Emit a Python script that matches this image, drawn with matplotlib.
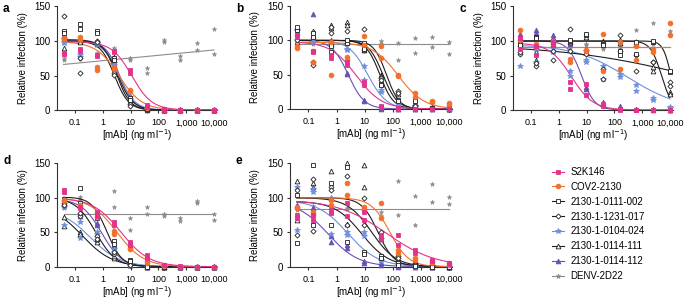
import numpy as np
import matplotlib
matplotlib.use("Agg")
import matplotlib.pyplot as plt
from matplotlib.lines import Line2D

plt.rcParams['font.family'] = ['Liberation Sans', 'DejaVu Sans']
plt.rcParams['font.size'] = 7

# ---------------- data ----------------
conc = [0.038, 0.15, 0.61, 2.44, 9.77, 39.1, 156, 625, 2500, 10000]
x_ticks = [0.1, 1, 10, 100, 1000, 10000]
x_ticklabels = ["0.1", "1", "10", "100", "1,000", "10,000"]
y_ticks = [0, 50, 100, 150]

names = ["S2K146", "COV2-2130", "2130-1-0111-002", "2130-1-1231-017",
         "2130-1-0104-024", "2130-1-0114-111", "2130-1-0114-112", "DENV-2D22"]

# panel a (two replicates per series)
A_S2K146 = [[83, 88, 80, 86, 58, 7, 0, 0, 0, 0], [81, 85, 78, 84, 54, 5, 1, 0, 0, 0]]
A_COV2130 = [[105, 106, 63, 63, 29, 4, 1, 0, 0, 0], [103, 101, 58, 60, 27, 3, 0, 0, 0, 0]]
A_0111_002 = [[114, 125, 114, 75, 18, 2, 0, 0, 0, 0], [111, 118, 111, 72, 15, 1, 0, 0, 0, 0]]
A_1231_017 = [[136, 54, 100, 54, 8, 1, 0, 0, 0, 0], [105, 76, 98, 51, 6, 0, 0, 0, 0, 0]]
A_0104_024 = [[99, 80, 97, 68, 19, 2, 0, 0, 0, 0], [97, 77, 95, 65, 16, 1, 0, 0, 0, 0]]
A_0114_111 = [[90, 100, 98, 77, 20, 2, 0, 0, 0, 0], [107, 98, 96, 73, 14, 1, 0, 0, 0, 0]]
A_0114_112 = [[108, 102, 99, 70, 15, 1, 0, 0, 0, 0], [104, 100, 97, 66, 12, 0, 0, 0, 0, 0]]
A_DENV = [[73, 74, 80, 90, 75, 61, 102, 78, 97, 117], [75, 77, 82, 85, 72, 54, 99, 73, 87, 81]]

# panel b
B_S2K146 = [[108, 83, 79, 69, 40, 4, 1, 0, 0, 0], [105, 85, 74, 64, 35, 3, 0, 0, 0, 0]]
B_COV2130 = [[89, 69, 49, 76, 106, 92, 50, 23, 11, 9], [92, 84, 98, 71, 93, 74, 48, 18, 10, 6]]
B_0111_002 = [[115, 110, 83, 96, 96, 37, 13, 13, 2, 1], [119, 105, 92, 100, 88, 35, 11, 11, 1, 0]]
B_1231_017 = [[117, 64, 120, 113, 117, 45, 26, 6, 2, 0], [101, 69, 110, 96, 86, 42, 24, 5, 1, 0]]
B_0104_024 = [[113, 98, 91, 86, 62, 25, 8, 3, 1, 0], [101, 100, 94, 88, 42, 27, 9, 4, 0, 0]]
B_0114_111 = [[97, 113, 122, 127, 91, 50, 26, 6, 3, 1], [110, 107, 118, 122, 86, 48, 22, 5, 2, 0]]
B_0114_112 = [[118, 139, 100, 51, 13, 1, 0, 0, 0, 0], [110, 108, 96, 53, 11, 0, 0, 0, 0, 0]]
B_DENV = [[96, 98, 99, 94, 95, 99, 72, 103, 105, 97], [93, 95, 92, 97, 91, 95, 96, 82, 90, 80]]

# panel c
C_S2K146 = [[105, 93, 98, 40, 38, 6, 1, 0, 0, 0], [88, 79, 95, 31, 22, 9, 0, 0, 0, 0]]
C_COV2130 = [[116, 93, 100, 74, 87, 110, 98, 93, 84, 126], [102, 96, 97, 69, 85, 57, 60, 72, 88, 108]]
C_0111_002 = [[96, 106, 100, 100, 108, 96, 86, 98, 98, 55], [94, 104, 98, 102, 110, 94, 79, 81, 100, 57]]
C_1231_017 = [[81, 64, 86, 117, 81, 60, 109, 57, 69, 41], [84, 68, 73, 86, 87, 45, 85, 80, 70, 35]]
C_0104_024 = [[64, 69, 86, 56, 72, 64, 52, 36, 18, 5], [92, 88, 84, 50, 70, 45, 48, 28, 15, 3]]
C_0114_111 = [[97, 72, 98, 100, 110, 100, 101, 99, 56, 26], [100, 84, 96, 98, 106, 98, 97, 95, 63, 23]]
C_0114_112 = [[110, 116, 109, 98, 34, 11, 6, 2, 1, 0], [104, 112, 104, 96, 31, 8, 3, 1, 0, 0]]
C_DENV = [[104, 95, 92, 93, 96, 92, 90, 116, 126, 114], [95, 90, 88, 90, 94, 89, 93, 100, 96, 108]]

# panel d
D_S2K146 = [[111, 87, 80, 65, 36, 17, 3, 1, 0, 0], [108, 85, 74, 60, 31, 13, 2, 0, 0, 0]]
D_COV2130 = [[97, 90, 78, 48, 27, 8, 2, 0, 0, 0], [95, 87, 72, 52, 25, 6, 1, 0, 0, 0]]
D_0111_002 = [[98, 114, 70, 37, 10, 1, 0, 0, 0, 0], [95, 92, 75, 33, 8, 0, 0, 0, 0, 0]]
D_1231_017 = [[92, 74, 44, 19, 4, 0, 0, 0, 0, 0], [90, 78, 40, 22, 3, 1, 0, 0, 0, 0]]
D_0104_024 = [[87, 65, 51, 26, 4, 0, 0, 0, 0, 0], [60, 41, 48, 22, 3, 0, 0, 0, 0, 0]]
D_0114_111 = [[59, 50, 36, 12, 3, 0, 0, 0, 0, 0], [72, 48, 40, 15, 5, 1, 0, 0, 0, 0]]
D_0114_112 = [[90, 74, 64, 31, 5, 0, 0, 0, 0, 0], [93, 78, 60, 28, 3, 0, 0, 0, 0, 0]]
D_DENV = [[88, 101, 80, 110, 53, 86, 77, 71, 95, 77], [85, 97, 76, 87, 70, 76, 74, 66, 92, 68]]

# panel e
E_S2K146 = [[75, 75, 82, 92, 80, 46, 46, 24, 10, 5], [70, 68, 78, 73, 68, 40, 32, 20, 8, 4]]
E_COV2130 = [[87, 80, 97, 122, 87, 93, 24, 12, 8, 5], [85, 75, 90, 104, 82, 70, 20, 9, 6, 3]]
E_0111_002 = [[104, 147, 122, 144, 22, 15, 5, 2, 1, 0], [34, 60, 60, 36, 18, 12, 3, 1, 0, 0]]
E_1231_017 = [[111, 127, 115, 131, 100, 50, 15, 6, 2, 0], [46, 52, 111, 60, 60, 41, 12, 4, 1, 0]]
E_0104_024 = [[115, 109, 99, 46, 51, 10, 5, 1, 0, 0], [53, 112, 48, 50, 45, 8, 3, 0, 0, 0]]
E_0114_111 = [[124, 121, 139, 150, 148, 45, 10, 4, 1, 0], [68, 116, 100, 62, 116, 40, 8, 3, 0, 0]]
E_0114_112 = [[90, 85, 36, 27, 5, 5, 1, 0, 0, 0], [88, 80, 45, 32, 8, 3, 0, 0, 0, 0]]
E_DENV = [[86, 88, 84, 83, 85, 73, 124, 102, 120, 101], [82, 84, 86, 85, 83, 80, 75, 60, 94, 91]]

# fitted curve parameters: (top, bottom, IC50, hill)
A_FITS = [(99, 0, 11, 1.2), (99, 0, 3.8, 1.05), (102, 0, 3.4, 1.6), (100, 0, 2.6, 1.7),
          (100, 0, 3.8, 1.5), (100, 0, 3.2, 1.8), (100, 0, 4.0, 1.7)]
B_FITS = [(98, 0, 5, 0.95), (97, 0, 160, 0.95), (100, 0, 35, 1.8), (100, 0, 45, 1.7),
          (100, 0, 13, 1.3), (100, 0, 60, 1.9), (100, 0, 2.6, 1.5)]
C_FITS = [(97, 0, 2.8, 1.1), (91, 91, 1, 1), (100, 0, 11000, 3), (95, 0, 1e5, 0.18),
          (95, 0, 300, 0.45), (100, 0, 5000, 2.2), (100, 0, 6.5, 1.8)]
D_FITS = [(100, 0, 4.5, 0.85), (100, 0, 3.2, 0.9), (101, 0, 1.4, 1.6), (100, 0, 0.55, 1.2),
          (85, 0, 0.35, 0.8), (90, 0, 0.18, 0.8), (98, 0, 0.9, 1.2)]
E_FITS = [(97, 0, 60, 0.5), (100, 0, 80, 1.3), (95, 0, 8, 0.9), (100, 0, 18, 1.0),
          (97, 0, 2.5, 0.8), (100, 0, 30, 1.5), (95, 0, 0.5, 0.8)]
# DENV-2D22 fit line: value at lowest and highest concentration
A_DENV_FIT = [66, 87]
B_DENV_FIT = [94, 94]
C_DENV_FIT = [92, 92]
D_DENV_FIT = [77, 77]
E_DENV_FIT = [84, 84]

# ---------------- styles ----------------
PINK = '#e2338c'
ORANGE = '#f26f2c'
BLUE = '#6e8fdc'
PURPLE = '#6a4fb6'
GRAY = '#8c8c8c'
BLACK = '#1e1e1e'

styles = [
    dict(color=PINK, marker='s', mfc=PINK, ms=3.2),
    dict(color=ORANGE, marker='o', mfc=ORANGE, ms=3.4),
    dict(color=BLACK, marker='s', mfc='white', ms=3.2),
    dict(color=BLACK, marker='D', mfc='white', ms=2.6),
    dict(color=BLUE, marker='*', mfc=BLUE, ms=4.0),
    dict(color=BLACK, marker='^', mfc='white', ms=3.4),
    dict(color=PURPLE, marker='^', mfc=PURPLE, ms=3.4),
    dict(color=GRAY, marker='*', mfc=GRAY, ms=3.4),
]


def logistic(x, top, bottom, ic50, hill):
    return bottom + (top - bottom) / (1.0 + (x / ic50) ** hill)


W, H = 685, 299
fig = plt.figure(figsize=(W / 100, H / 100), dpi=100)


def add_axes_px(left, right, y150, y0):
    return fig.add_axes([left / W, 1 - y0 / H, (right - left) / W, (y0 - y150) / H])


panels = [
    ("a", add_axes_px(57, 217, 6.5, 110),
     [A_S2K146, A_COV2130, A_0111_002, A_1231_017, A_0104_024, A_0114_111, A_0114_112, A_DENV],
     A_FITS, A_DENV_FIT, (3, 9)),
    ("b", add_axes_px(290, 452, 6.0, 109),
     [B_S2K146, B_COV2130, B_0111_002, B_1231_017, B_0104_024, B_0114_111, B_0114_112, B_DENV],
     B_FITS, B_DENV_FIT, (236, 9)),
    ("c", add_axes_px(513, 673, 6.5, 110),
     [C_S2K146, C_COV2130, C_0111_002, C_1231_017, C_0104_024, C_0114_111, C_0114_112, C_DENV],
     C_FITS, C_DENV_FIT, (459, 9)),
    ("d", add_axes_px(57, 217, 163.3, 266.7),
     [D_S2K146, D_COV2130, D_0111_002, D_1231_017, D_0104_024, D_0114_111, D_0114_112, D_DENV],
     D_FITS, D_DENV_FIT, (3, 161)),
    ("e", add_axes_px(290, 452, 163.3, 266.7),
     [E_S2K146, E_COV2130, E_0111_002, E_1231_017, E_0104_024, E_0114_111, E_0114_112, E_DENV],
     E_FITS, E_DENV_FIT, (236, 161)),
]

xs = np.array(conc, dtype=float)
xfit = np.logspace(np.log10(conc[0]), np.log10(conc[-1]), 200)

for letter, ax, series, fits, denv_fit, lab in panels:
    # DENV first (underneath)
    st = styles[7]
    ax.plot([conc[0], conc[-1]], denv_fit, color=GRAY, lw=0.8, zorder=2)
    for rep in series[7]:
        ax.plot(xs, rep, ls='none', marker=st['marker'], color=st['color'],
                mfc=st['mfc'], ms=st['ms'], mew=0.4, clip_on=False, zorder=3)
    for i in range(6, -1, -1):
        st = styles[i]
        ax.plot(xfit, logistic(xfit, *fits[i]), color=st['color'], lw=0.8, zorder=4)
        for rep in series[i]:
            ax.plot(xs, rep, ls='none', marker=st['marker'], color=st['color'],
                    mfc=st['mfc'], ms=st['ms'], mew=0.6, clip_on=False, zorder=5)
    ax.set_xscale('log')
    ax.set_xlim(0.022, 13000)
    ax.set_ylim(0, 150)
    ax.set_xticks(x_ticks)
    ax.set_xticklabels(x_ticklabels)
    ax.xaxis.set_minor_locator(matplotlib.ticker.NullLocator())
    ax.set_yticks(y_ticks)
    for s in ['top', 'right']:
        ax.spines[s].set_visible(False)
    for s in ['left', 'bottom']:
        ax.spines[s].set_linewidth(0.8)
        ax.spines[s].set_color('#333333')
    ax.tick_params(length=2.5, width=0.8, pad=2.5, labelsize=7, color='#333333')
    ax.tick_params(axis='x', labelsize=6.5, pad=3.5)
    ax.set_ylabel("Relative infection (%)", fontsize=7)
    ax.yaxis.set_label_coords(-0.215, 0.5)
    ax.set_xlabel("[mAb] (ng ml$^{-1}$)", fontsize=7)
    ax.xaxis.set_label_coords(0.5, -0.245)
    ax.xaxis.label.set_va('center')
    ax.yaxis.label.set_va('center')
    fig.text(lab[0] / W, 1 - lab[1] / H, letter, fontsize=8.5, fontweight='bold',
             ha='left', va='center')

handles = []
for i in range(8):
    st = styles[i]
    handles.append(Line2D([0], [0], color=st['color'], lw=0.8, marker=st['marker'],
                          mfc=st['mfc'], ms=st['ms'], mew=0.6))
fig.legend(handles, names, loc='upper left', bbox_to_anchor=(552 / W, 1 - 167 / H),
           frameon=False, fontsize=7, handlelength=1.2, handletextpad=0.7,
           labelspacing=0.5, borderpad=0, borderaxespad=0)

fig.savefig("out.png", dpi=100)
